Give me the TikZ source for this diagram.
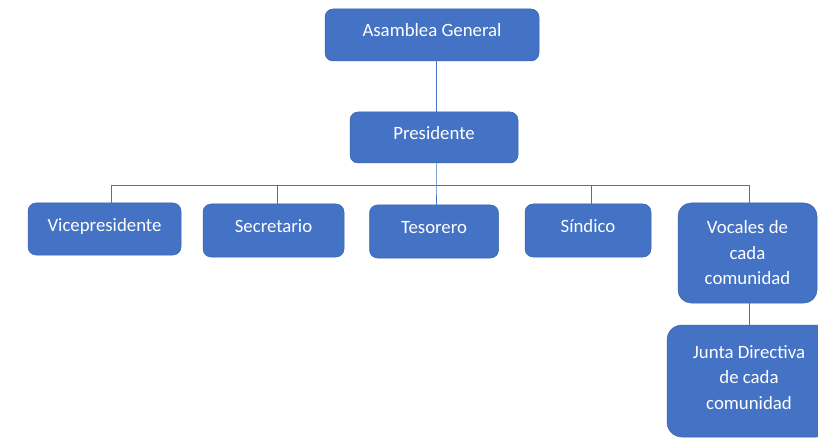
\documentclass[tikz,border=0pt]{standalone}
\usepackage{fontspec}
\setmainfont{Carlito}
\usepackage{tikz}
\usetikzlibrary{positioning,calc}

\definecolor{azulcargo}{HTML}{4472C4}
\definecolor{bordecargo}{HTML}{3A63AD}

\tikzset{
    cargo/.style={draw=bordecargo, line width=0.5pt, fill=azulcargo, text=white,
        rounded corners=8pt, inner sep=0pt, align=center,
        font=\fontsize{18.8}{25.5}\selectfont},
    cargouno/.style={cargo, text height=13pt, text depth=9pt},
    linea/.style={draw=azulcargo, line width=1pt}
}

\begin{document}
\begin{tikzpicture}[x=1pt, y=-1pt]
            \useasboundingbox (0,0) rectangle (818,438);
            \clip (0,0) rectangle (818,438);

            % niveles superiores
            \node[cargouno, minimum width=214pt, minimum height=52pt] (asamblea) at (432,35) {Asamblea General};
            \node[cargouno, minimum width=168pt, minimum height=51pt] (presidente) at (434,137.5) {Presidente};

            % cargos de la directiva
            \node[cargouno, minimum width=153pt, minimum height=52pt] (vice) at (104.5,229) {Vicepresidente};
            \node[cargouno, minimum width=141pt, minimum height=53pt] (secretario) at (273.5,230.5) {Secretario};
            \node[cargouno, minimum width=129pt, minimum height=53pt] (tesorero) at (434,231.5) {Tesorero};
            \node[cargouno, minimum width=126pt, minimum height=53pt] (sindico) at (588,230.5) {S\'{\i}ndico};
            \node[cargo, rounded corners=13pt, minimum width=139pt, minimum height=100pt] (vocales) at (747.5,253) {Vocales de\\cada\\comunidad};
            \node[cargo, rounded corners=15pt, text depth=8pt, minimum width=164pt, minimum height=112pt] (junta) at (749,381) {Junta Directiva\\de cada\\comunidad};

            \coordinate (bus) at (436,186);

            \draw[linea] (asamblea.south -| bus) -- (presidente.north -| bus);
            \draw[linea] (presidente.south -| bus) -- (bus) -- (tesorero.north -| bus);
            \draw[linea] (bus) -| ([xshift=6.5pt]vice.north);
            \draw[linea] (bus) -| ([xshift=3.5pt]secretario.north);
            \draw[linea] (bus) -| ([xshift=3pt]sindico.north);
            \draw[linea] (bus) -| ([xshift=1.5pt]vocales.north);
            \draw[linea] ([xshift=1.5pt]vocales.south) -- ([xshift=1.5pt]vocales.south |- junta.north);
        \end{tikzpicture}
\end{document}
